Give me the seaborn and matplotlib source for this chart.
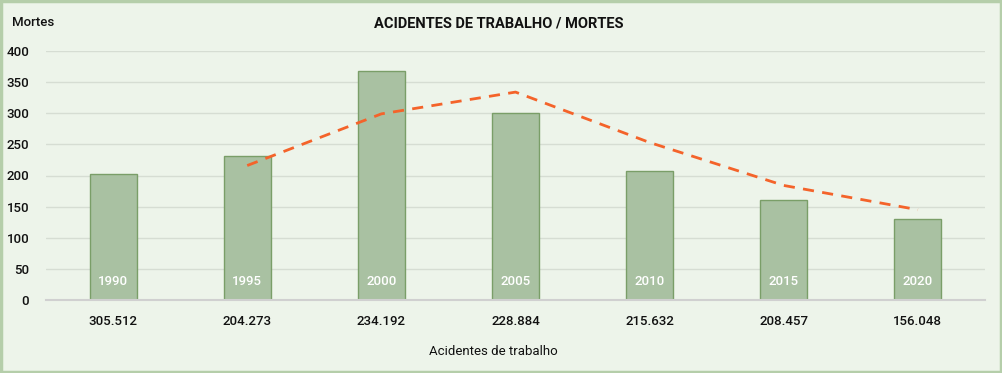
import matplotlib
matplotlib.use("Agg")
import matplotlib.pyplot as plt
import numpy as np
import pandas as pd
import seaborn as sns
from matplotlib.patches import Rectangle

years = ['1990', '1995', '2000', '2005', '2010', '2015', '2020']
accidents = ['305.512', '204.273', '234.192', '228.884', '215.632', '208.457', '156.048']
deaths = [202, 231, 368, 300, 207, 161, 130]
# moving average trendline (2 periods)
trend_years = ['1995', '2000', '2005', '2010', '2015', '2020']
trend = [216, 299, 334, 253, 184, 145]

BG = '#edf4ea'
BAR = '#a9c1a2'
EDGE = '#7a9e68'
LINE = '#f4632a'

sns.set_theme(style='white')
plt.rcParams['font.family'] = ['Roboto', 'DejaVu Sans']
plt.rcParams['font.weight'] = 'medium'

df = pd.DataFrame({'year': years, 'accidents': accidents, 'deaths': deaths})

fig = plt.figure(figsize=(10.03, 3.73), dpi=100, facecolor=BG)
ax = fig.add_axes([46 / 1003, 1 - 300 / 373, (985 - 46) / 1003, 249 / 373])
ax.set_facecolor(BG)

sns.barplot(data=df, x='accidents', y='deaths', order=accidents, color=BAR,
            edgecolor=EDGE, linewidth=1.0, width=0.35, saturation=1, ax=ax, zorder=2)

pos = [years.index(y) for y in trend_years]
sns.lineplot(x=pos, y=trend, ax=ax, color=LINE, linewidth=2.0, zorder=3)
ax.lines[-1].set_dashes([4, 3])

for i, yr in enumerate(years):
    ax.text(i, 30, yr, color='white', ha='center', va='center', fontsize=9.5, zorder=4)

ax.set_xlim(-0.5, 6.5)
ax.set_ylim(0, 400)
ax.set_yticks(np.arange(0, 401, 50))
ax.yaxis.grid(True, color='#d6ddd3', linewidth=1)
ax.set_axisbelow(True)
for s in ['top', 'right', 'left']:
    ax.spines[s].set_visible(False)
ax.spines['bottom'].set_color('#d0d0d0')
ax.spines['bottom'].set_linewidth(1.5)
ax.spines['bottom'].set_zorder(5)
ax.tick_params(axis='y', length=0, pad=12, labelsize=9.5, colors='#111111')
ax.tick_params(axis='x', length=0, pad=11, labelsize=9.5, colors='#111111')
ax.set_ylabel('')
ax.set_xlabel('Acidentes de trabalho', fontsize=9.5, color='#111111')
ax.xaxis.set_label_coords((493 - 46) / 939, -45 / 249)

fig.text(499 / 1003, 1 - 23 / 373, 'ACIDENTES DE TRABALHO / MORTES', ha='center', va='center',
         fontsize=10.5, fontweight='bold', color='#111111')
fig.text(12 / 1003, 1 - 23 / 373, 'Mortes', ha='left', va='center', fontsize=9.5, color='#111111')

fig.patches.append(Rectangle((0.001, 0.003), 0.997, 0.994, transform=fig.transFigure,
                             fill=False, edgecolor='#b5ceaa', linewidth=2.5))

fig.savefig('out.png', dpi=100, facecolor=BG)
